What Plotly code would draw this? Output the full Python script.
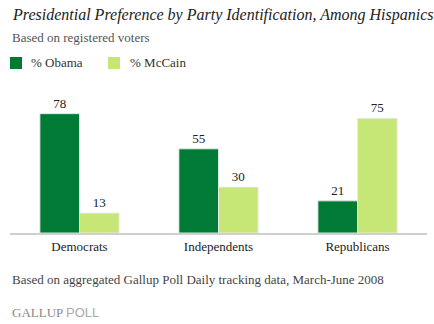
import plotly.graph_objects as go

categories = ["Democrats", "Independents", "Republicans"]
obama = [78, 55, 21]
mccain = [13, 30, 75]
series_names = ["% Obama", "% McCain"]

DARK = "#017A36"
LIGHT = "#C6E676"
SERIF = "Liberation Serif, Times New Roman, serif"

fig = go.Figure()
for name, vals, col in [(series_names[0], obama, DARK), (series_names[1], mccain, LIGHT)]:
    fig.add_trace(go.Bar(
        x=categories, y=vals, name=name,
        marker=dict(color=col, line=dict(color="rgba(235,235,235,0.9)", width=1)),
        text=[str(v) for v in vals], textposition="outside",
        textfont=dict(family=SERIF, size=13, color="#222"),
        cliponaxis=False, showlegend=False,
    ))

fig.update_layout(
    width=434, height=324,
    margin=dict(l=10, r=7, t=80, b=91),
    paper_bgcolor="white", plot_bgcolor="white",
    barmode="group", bargap=0.43, bargroupgap=0,
    xaxis=dict(showline=True, linecolor="#cfcfcf", linewidth=2, ticks="",
               tickfont=dict(family=SERIF, size=13, color="#222"), showgrid=False),
    yaxis=dict(range=[0, 100], visible=False, showgrid=False),
    font=dict(family=SERIF),
)

ann = [
    dict(text="<i>Presidential Preference by Party Identification, Among Hispanics</i>",
         x=10, y=15, font=dict(size=16, color="#222")),
    dict(text="Based on registered voters", x=10, y=37, font=dict(size=13, color="#555")),
    dict(text=series_names[0], x=29, y=63, font=dict(size=13, color="#333")),
    dict(text=series_names[1], x=128, y=63, font=dict(size=13, color="#333")),
    dict(text="Based on aggregated Gallup Poll Daily tracking data, March-June 2008",
         x=10, y=279, font=dict(size=13, color="#444")),
    dict(text="GALLUP <span style='font-family:Liberation Sans, Arial, sans-serif;color:#aaa'>POLL</span>",
         x=10, y=312, font=dict(size=13, color="#888")),
]
for a in ann:
    fig.add_annotation(xref="paper", yref="paper", x=(a["x"] - 10) / 417, y=1 - (a["y"] - 80) / 153,
                       xanchor="left", yanchor="middle", showarrow=False, text=a["text"],
                       font=dict(family=SERIF, **a["font"]))

for x0, col in [(10, DARK), (108, LIGHT)]:
    fig.add_shape(type="rect", xref="paper", yref="paper",
                  x0=(x0 - 10) / 417, x1=(x0 + 12 - 10) / 417,
                  y0=1 - (69 - 80) / 153, y1=1 - (57 - 80) / 153,
                  fillcolor=col, line=dict(width=0))

fig.write_html("out.html")
